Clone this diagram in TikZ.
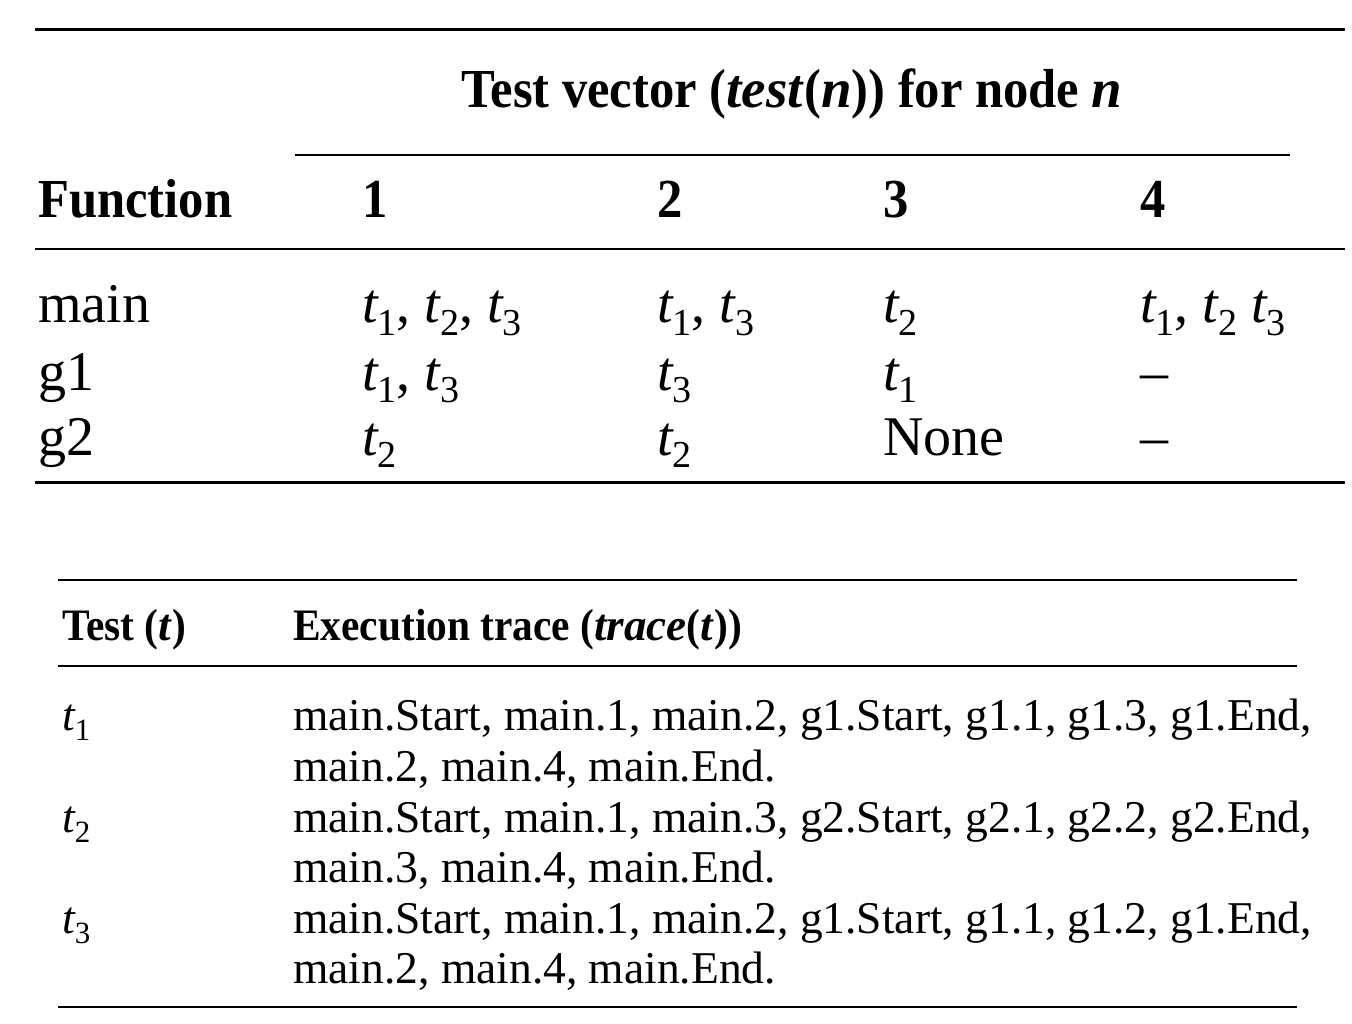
\documentclass[tikz,border=0pt]{standalone}
\usepackage{fontspec}
\setmainfont{Liberation Serif}[BoldFeatures={FakeStretch=0.92}]
\newcommand{\tst}[1]{\textit{t}\kern-0.02em\raisebox{-0.22em}{\fontsize{0.68em}{0.8em}\selectfont #1}}
\begin{document}
\begin{tikzpicture}[%
                x=1pt, y=-1pt,
                cell/.style={anchor=base west, inner sep=0pt, font=\fontsize{56}{66}\selectfont},
                headcell/.style={cell, font=\fontsize{55}{66}\selectfont\bfseries},
                trcell/.style={anchor=base west, inner sep=0pt, font=\fontsize{45.5}{51}\selectfont},
                trhead/.style={trcell, font=\fontsize{45}{51}\selectfont\bfseries},
                thickrule/.style={line width=3pt},
                thinrule/.style={line width=2.2pt}
            ]
            \useasboundingbox (0,0) rectangle (1352,1024);
            % upper table
            \draw [thickrule] (35,30) -- (1345,30);
            \node [headcell, anchor=base] (vechead) at (792,108) {Test vector (\textit{test}(\textit{n})) for node \textit{n}};
            \draw [thinrule] (295,155) -- (1290,155);
            \node [headcell] (funchead) at (38,218) {Function};
            \foreach \mycol/\myx in {1/362,2/657,3/883,4/1140}
                \node [headcell] (col\mycol) at (\myx,218) {\mycol};
            \draw [thinrule] (35,249) -- (1345,249);
            \node [cell] (main) at (38,323) {main};
            \node [cell] (mainA) at (362,323) {\tst1, \tst2, \tst3};
            \node [cell] (mainB) at (657,323) {\tst1, \tst3};
            \node [cell] (mainC) at (883,323) {\tst2};
            \node [cell] (mainD) at (1140,323) {\tst1, \tst2 \tst3};
            \node [cell] (gone) at (38,390) {g1};
            \node [cell] (goneA) at (362,390) {\tst1, \tst3};
            \node [cell] (goneB) at (657,390) {\tst3};
            \node [cell] (goneC) at (883,390) {\tst1};
            \node [cell] (goneD) at (1140,390) {--};
            \node [cell] (gtwo) at (38,455) {g2};
            \node [cell] (gtwoA) at (362,455) {\tst2};
            \node [cell] (gtwoB) at (657,455) {\tst2};
            \node [cell] (gtwoC) at (883,455) {None};
            \node [cell] (gtwoD) at (1140,455) {--};
            \draw [thickrule] (35,482) -- (1345,482);
            % lower table
            \draw [thinrule] (58,580) -- (1297,580);
            \node [trhead] (testhead) at (62,640) {Test (\textit{t})};
            \node [trhead] (tracehead) at (293,640) {Execution trace (\textit{trace}(\textit{t}))};
            \draw [thinrule] (58,666) -- (1297,666);
            \node [trcell] (tone) at (62,730) {\tst1};
            \node [trcell] (traceone) at (293,730) {main.Start, main.1, main.2, g1.Start, g1.1, g1.3, g1.End,};
            \node [trcell] (traceonemore) at (293,781) {main.2, main.4, main.End.};
            \node [trcell] (ttwo) at (62,832) {\tst2};
            \node [trcell] (tracetwo) at (293,832) {main.Start, main.1, main.3, g2.Start, g2.1, g2.2, g2.End,};
            \node [trcell] (tracetwomore) at (293,882) {main.3, main.4, main.End.};
            \node [trcell] (tthree) at (62,933) {\tst3};
            \node [trcell] (tracethree) at (293,933) {main.Start, main.1, main.2, g1.Start, g1.1, g1.2, g1.End,};
            \node [trcell] (tracethreemore) at (293,983) {main.2, main.4, main.End.};
            \draw [thinrule] (58,1007) -- (1297,1007);
        \end{tikzpicture}
\end{document}
